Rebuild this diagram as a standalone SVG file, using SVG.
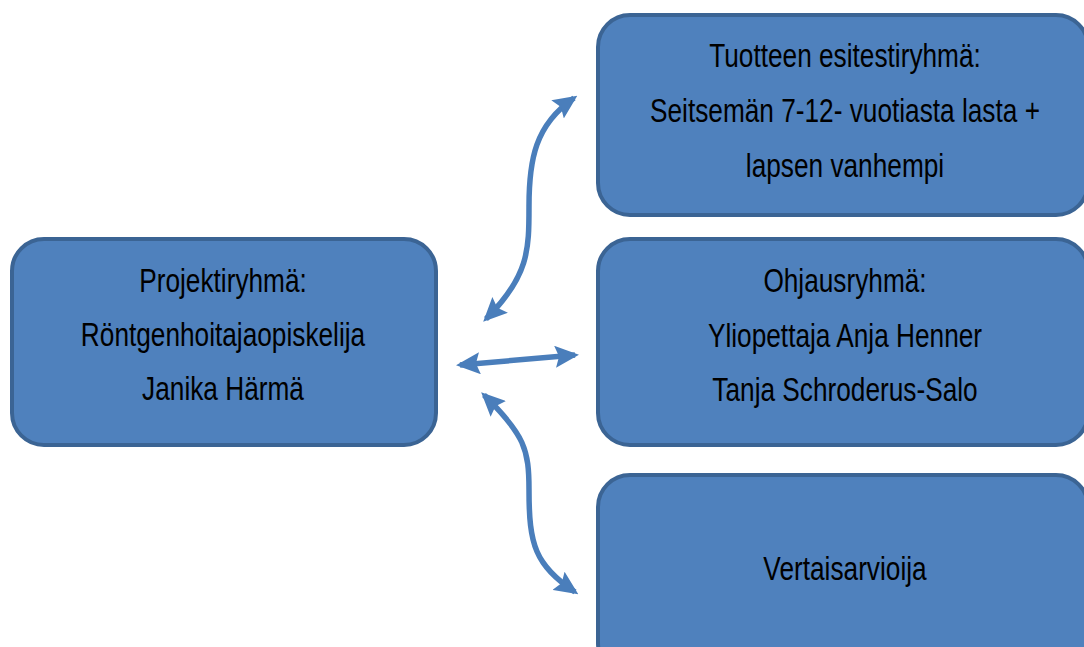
<svg xmlns="http://www.w3.org/2000/svg" width="1084" height="647" viewBox="0 0 1084 647">
<style>
.box{fill:#4F81BD;stroke:#3B6494;stroke-width:4}
.t{font-family:"Liberation Sans",Arial,sans-serif;font-size:33px;fill:#000;text-anchor:middle}
.c{fill:none;stroke:#4A7EBB;stroke-width:5.5}
</style>
<defs>
<marker id="ah" viewBox="0 0 24 22" refX="20" refY="11" markerWidth="24" markerHeight="22" markerUnits="userSpaceOnUse" orient="auto-start-reverse">
<path d="M0,0 L24,11 L0,22 L4,11 Z" fill="#4A7EBB"/>
</marker>
</defs>
<rect width="1084" height="647" fill="#fff"/>
<g id="connectors">
<path class="c" d="M486,319 C529,276 529,250 529,206 C529,160 535,125 574,98" marker-start="url(#ah)" marker-end="url(#ah)"/>
<path class="c" d="M460,365 L575,355" marker-start="url(#ah)" marker-end="url(#ah)"/>
<path class="c" d="M484,395 C525,435 529,450 529,490 C529,545 535,565 575,592" marker-start="url(#ah)" marker-end="url(#ah)"/>
</g>
<g id="projektiryhma">
<rect class="box" x="12" y="239" width="424" height="206" rx="32"/>
<g transform="translate(223,0) scale(0.795,1)">
<text class="t" x="0" y="292">Projektiryhmä:</text>
<text class="t" x="0" y="346">Röntgenhoitajaopiskelija</text>
<text class="t" x="0" y="400">Janika Härmä</text>
</g>
</g>
<g id="esitestiryhma">
<rect class="box" x="598" y="15" width="490" height="200" rx="32"/>
<g transform="translate(845,0) scale(0.795,1)">
<text class="t" x="0" y="67">Tuotteen esitestiryhmä:</text>
<text class="t" x="0" y="122">Seitsemän 7-12- vuotiasta lasta +</text>
<text class="t" x="0" y="177">lapsen vanhempi</text>
</g>
</g>
<g id="ohjausryhma">
<rect class="box" x="598" y="239" width="490" height="206" rx="32"/>
<g transform="translate(845,0) scale(0.795,1)">
<text class="t" x="0" y="292">Ohjausryhmä:</text>
<text class="t" x="0" y="347">Yliopettaja Anja Henner</text>
<text class="t" x="0" y="401">Tanja Schroderus-Salo</text>
</g>
</g>
<g id="vertaisarvioija">
<rect class="box" x="598" y="475" width="490" height="200" rx="32"/>
<g transform="translate(845,0) scale(0.795,1)">
<text class="t" x="0" y="580">Vertaisarvioija</text>
</g>
</g>
</svg>
